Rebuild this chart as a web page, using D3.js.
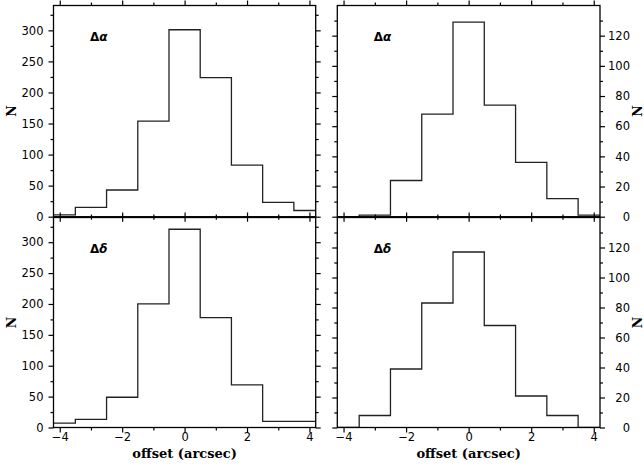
<!DOCTYPE html>
<html>
<head>
<meta charset="utf-8">
<script src="https://cdn.jsdelivr.net/npm/d3@7"></script>
<style>
  html, body { margin: 0; padding: 0; background: #fff; }
  svg { display: block; }
</style>
</head>
<body>
<svg id="chart" width="644" height="466"></svg>
<script>
// ---- data ----
const binCenters = [-4, -3, -2, -1, 0, 1, 2, 3, 4];
const raLeft   = [3, 15, 43, 154, 301, 224, 83, 23, 10];   // top-left  Δα
const decLeft  = [7, 13, 49, 200, 321, 178, 69, 10, 10];   // bottom-left Δδ
const raRight  = [0, 1, 24, 68, 129, 74, 36, 12, 1];       // top-right Δα
const decRight = [0, 8, 39, 83, 117, 68, 21, 8, 0];        // bottom-right Δδ
const xMajorTicks = [-4, -2, 0, 2, 4];
const xMinorTicks = [-3, -1, 1, 3];
const yLeftMajor = [0, 50, 100, 150, 200, 250, 300];
const yLeftMinor = [25, 75, 125, 175, 225, 275, 325];
const yRightMajor = [0, 20, 40, 60, 80, 100, 120];
const yRightMinor = [10, 30, 50, 70, 90, 110, 130];
const xLabel = "offset (arcsec)";
const yLabel = "N";

const svg = d3.select("#chart");
const tickFont = "'DejaVu Sans', sans-serif";
const titleFont = "'DejaVu Serif', serif";

const colX = [{x0: 53.5, x1: 315.7}, {x0: 337.3, x1: 600}];
const rowY = [{y0: 5.5, y1: 216.7}, {y0: 217.5, y1: 427.5}];

const panels = [
  {col: 0, row: 0, values: raLeft,   ymax: 340, yMaj: yLeftMajor,  yMin: yLeftMinor,  label: "α", side: "left"},
  {col: 1, row: 0, values: raRight,  ymax: 140, yMaj: yRightMajor, yMin: yRightMinor, label: "α", side: "right"},
  {col: 0, row: 1, values: decLeft,  ymax: 340, yMaj: yLeftMajor,  yMin: yLeftMinor,  label: "δ", side: "left"},
  {col: 1, row: 1, values: decRight, ymax: 140, yMaj: yRightMajor, yMin: yRightMinor, label: "δ", side: "right"}
];

function styleAxis(g) {
  g.select(".domain").remove();
  g.selectAll("line").attr("stroke", "#000").attr("stroke-width", 1.2);
  g.selectAll("text").attr("font-family", tickFont).attr("font-size", 11.5).attr("fill", "#000");
}

panels.forEach((p, i) => {
  const {x0, x1} = colX[p.col];
  const {y0, y1} = rowY[p.row];
  const x = d3.scaleLinear().domain([-4.2, 4.2]).range([x0, x1]);
  const y = d3.scaleLinear().domain([0, p.ymax]).range([y1, y0]);
  const g = svg.append("g");

  // clip
  const cid = "clip" + i;
  svg.append("clipPath").attr("id", cid).append("rect")
    .attr("x", x0).attr("y", y0).attr("width", x1 - x0).attr("height", y1 - y0);

  // histogram step path
  const pts = [];
  binCenters.forEach((c, k) => {
    const v = p.values[k];
    pts.push([x(c - 0.5), y(v)]);
    pts.push([x(c + 0.5), y(v)]);
  });
  g.append("path")
    .attr("d", d3.line()(pts))
    .attr("fill", "none")
    .attr("stroke", "#222")
    .attr("stroke-width", 1.3)
    .attr("clip-path", `url(#${cid})`);

  // frame
  g.append("rect")
    .attr("x", x0).attr("y", y0).attr("width", x1 - x0).attr("height", y1 - y0)
    .attr("fill", "none").attr("stroke", "#000").attr("stroke-width", 1.3);

  // x axes (bottom and top)
  const showX = p.row === 1;
  g.append("g").attr("transform", `translate(0,${y1})`)
    .call(d3.axisBottom(x).tickValues(xMajorTicks).tickSize(5).tickPadding(0)
      .tickFormat(showX ? d3.format("d") : () => ""))
    .call(styleAxis);
  g.append("g").attr("transform", `translate(0,${y1})`)
    .call(d3.axisBottom(x).tickValues(xMinorTicks).tickSize(3).tickFormat(() => ""))
    .call(styleAxis);
  g.append("g").attr("transform", `translate(0,${y0})`)
    .call(d3.axisTop(x).tickValues(xMajorTicks).tickSize(5).tickFormat(() => ""))
    .call(styleAxis);
  g.append("g").attr("transform", `translate(0,${y0})`)
    .call(d3.axisTop(x).tickValues(xMinorTicks).tickSize(3).tickFormat(() => ""))
    .call(styleAxis);

  // y axes
  const labLeft = p.side === "left";
  g.append("g").attr("transform", `translate(${x0},0)`)
    .call(d3.axisLeft(y).tickValues(p.yMaj).tickSize(5).tickPadding(5)
      .tickFormat(labLeft ? d3.format("d") : () => ""))
    .call(styleAxis);
  g.append("g").attr("transform", `translate(${x0},0)`)
    .call(d3.axisLeft(y).tickValues(p.yMin).tickSize(3).tickFormat(() => ""))
    .call(styleAxis);
  const gr = g.append("g").attr("transform", `translate(${x1},0)`)
    .call(d3.axisRight(y).tickValues(p.yMaj).tickSize(5)
      .tickFormat(labLeft ? () => "" : d3.format("d")))
    .call(styleAxis);
  if (!labLeft) gr.selectAll("text").attr("text-anchor", "end").attr("x", 30);
  g.append("g").attr("transform", `translate(${x1},0)`)
    .call(d3.axisRight(y).tickValues(p.yMin).tickSize(3).tickFormat(() => ""))
    .call(styleAxis);

  // panel label
  const t = g.append("text")
    .attr("x", x0 + 36.5).attr("y", y0 + 35.5)
    .attr("font-family", tickFont).attr("font-size", 12).attr("font-weight", "bold")
    .attr("fill", "#000");
  t.append("tspan").text("Δ");
  t.append("tspan").attr("font-style", "italic").text(p.label);

  // N label
  const nx = labLeft ? 12 : 638;
  g.append("text")
    .attr("transform", `translate(${nx},${(y0 + y1) / 2}) rotate(-90)`)
    .attr("text-anchor", "middle").attr("dy", "0.35em")
    .attr("font-family", titleFont).attr("font-size", 12.5).attr("font-weight", "bold")
    .text(yLabel);

  // x title
  if (showX) {
    g.append("text")
      .attr("x", (x0 + x1) / 2).attr("y", 457.5)
      .attr("text-anchor", "middle")
      .attr("font-family", titleFont).attr("font-size", 13).attr("font-weight", "bold")
      .text(xLabel);
  }
});
</script>
</body>
</html>
